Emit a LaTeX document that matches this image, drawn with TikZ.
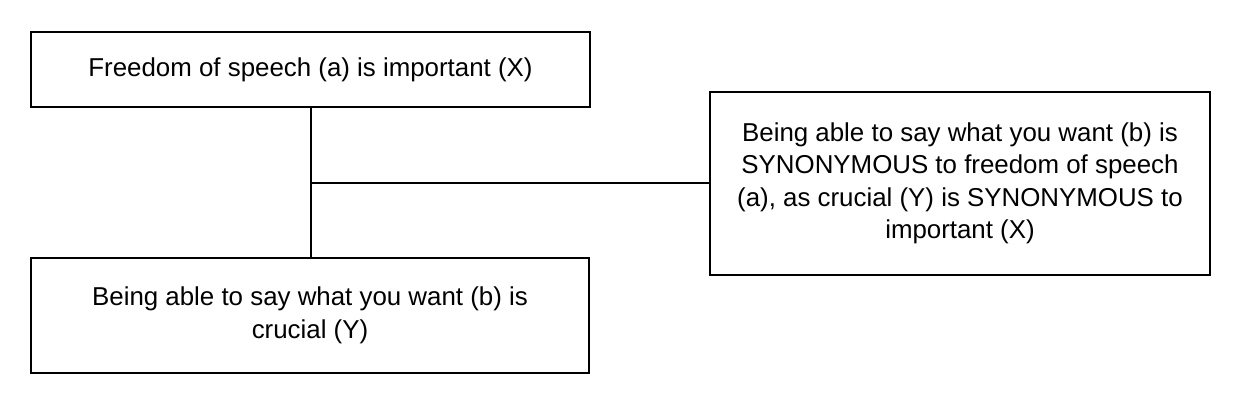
\documentclass[tikz,border=0pt]{standalone}
\usepackage{fontspec}
\setmainfont{Liberation Sans}
\begin{document}
\begin{tikzpicture}[x=0.75pt,y=-0.75pt,
  box/.style={draw,line width=1pt,align=center,font=\fontsize{19.4}{24.3}\selectfont,inner sep=0pt},
  conn/.style={line width=1pt}]
\useasboundingbox (0,0) rectangle (1240,403);
\node[box,minimum width=559*0.75pt,minimum height=75*0.75pt] (a) at (310.5,69.5) {Freedom of speech (a) is important (X)};
\node[box,minimum width=558*0.75pt,minimum height=115*0.75pt] (b) at (310,315.5) {Being able to say what you want (b) is\\crucial (Y)};
\node[box,minimum width=500*0.75pt,minimum height=183*0.75pt] (c) at (960,183.5) {Being able to say what you want (b) is\\SYNONYMOUS to freedom of speech\\(a), as crucial (Y) is SYNONYMOUS to\\important (X)};
\coordinate (m) at (311,183);
\draw[conn] (a.south -| m) -- (b.north -| m);
\draw[conn] (m) -- (c.west |- m);
\end{tikzpicture}
\end{document}
